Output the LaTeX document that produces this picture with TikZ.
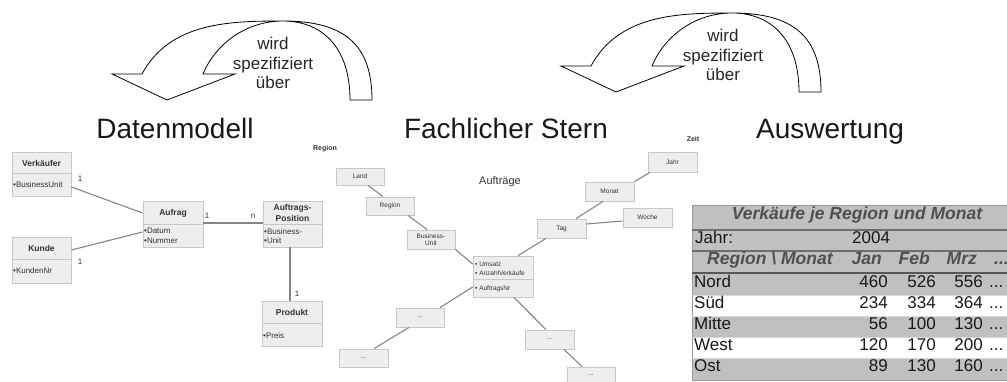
\documentclass[tikz,border=0pt]{standalone}
\usepackage{fontspec}
\setmainfont{Liberation Sans}
\usetikzlibrary{calc}
\definecolor{boxfill}{HTML}{EEEEEE}
\definecolor{boxline}{HTML}{C8C8C8}
\definecolor{connc}{HTML}{858585}
\definecolor{tabgray}{HTML}{C0C0C0}
\definecolor{tabsep}{HTML}{6E6E6E}
\definecolor{tabhead}{HTML}{505050}
\definecolor{txtc}{HTML}{333333}
\begin{document}
\begin{tikzpicture}[x=1pt,y=-1pt,
  box/.style={draw=boxline, fill=boxfill, line width=0.8pt, inner sep=0pt},
  divider/.style={draw=boxline, line width=0.8pt},
  conn/.style={draw=connc, line width=1.1pt},
  arrowshape/.style={draw=black, line width=0.8pt, line join=miter},
  bigtitle/.style={font=\fontsize{28}{32}\selectfont, text=black!90, anchor=base, inner sep=0pt},
  arrowtxt/.style={font=\fontsize{17}{19.5}\selectfont, align=center, text=black!85, inner sep=0pt},
  hdr/.style={font=\fontsize{8.5}{10.5}\selectfont\bfseries, text=txtc, align=center, inner sep=0pt},
  attr/.style={font=\fontsize{8}{9.5}\selectfont, text=txtc, anchor=mid west, inner sep=0pt},
  mult/.style={font=\fontsize{8}{9.5}\selectfont, text=txtc, inner sep=0pt},
  sbox/.style={box, font=\fontsize{6.5}{7.5}\selectfont, text=txtc, align=center},
  sattr/.style={font=\fontsize{6.5}{7.5}\selectfont, text=txtc, anchor=mid west, inner sep=0pt},
  dimlabel/.style={font=\fontsize{7}{8}\selectfont\bfseries, text=txtc, inner sep=0pt},
  tabtxt/.style={font=\fontsize{17}{19}\selectfont, text=black!90, inner sep=0pt},
  tabhdr/.style={font=\fontsize{17.5}{19}\selectfont\bfseries\itshape, text=tabhead, inner sep=0pt}
]
\useasboundingbox (0,0) rectangle (1007,382);

% ---------- curved arrows ----------
\draw[arrowshape] (112,74) -- (142,74) .. controls (170,22) and (230,21) .. (283,21)
  .. controls (345,21) and (372,45) .. (372,100) -- (350,100)
  .. controls (350,45) and (320,21) .. (283,21)
  .. controls (245,21) and (215,45) .. (203,74) -- (235,74) -- (167,100) -- cycle;
\node[arrowtxt] (t1) at (273,63) {wird\\spezifiziert\\über};

\begin{scope}[shift={(449,-8)}]
\draw[arrowshape] (112,74) -- (142,74) .. controls (170,22) and (230,21) .. (283,21)
  .. controls (345,21) and (372,45) .. (372,100) -- (350,100)
  .. controls (350,45) and (320,21) .. (283,21)
  .. controls (245,21) and (215,45) .. (203,74) -- (235,74) -- (167,100) -- cycle;
\node[arrowtxt] (t2) at (274,63) {wird\\spezifiziert\\über};
\end{scope}

% ---------- titles ----------
\node[bigtitle] (dm) at (175,139) {Datenmodell};
\node[bigtitle] (fs) at (506,139) {Fachlicher Stern};
\node[bigtitle] (aw) at (830,139) {Auswertung};

% ---------- Datenmodell ----------
\node[box, minimum width=59pt, minimum height=44pt] (verk) at (41.5,174) {};
\draw[divider] (verk.west |- 0,173) -- (verk.east |- 0,173);
\node[hdr] (verkh) at (41.5,163) {Verkäufer};
\node[attr] (verka) at (13,185) {•BusinessUnit};

\node[box, minimum width=59pt, minimum height=46pt] (kunde) at (41.5,260) {};
\draw[divider] (kunde.west |- 0,259) -- (kunde.east |- 0,259);
\node[hdr] (kundeh) at (41.5,248) {Kunde};
\node[attr] (kundea) at (13,271) {•KundenNr};

\node[box, minimum width=60pt, minimum height=46pt] (aufrag) at (173,224) {};
\draw[divider] (aufrag.west |- 0,224) -- (aufrag.east |- 0,224);
\node[hdr] (aufragh) at (173,213) {Aufrag};
\node[attr] (aufraga) at (144,231) {•Datum};
\node[attr] (aufragb) at (144,241) {•Nummer};

\node[box, minimum width=59pt, minimum height=46pt] (pos) at (292.5,224) {};
\draw[divider] (pos.west |- 0,224) -- (pos.east |- 0,224);
\node[hdr] (posh) at (292.5,213) {Auftrags-\\Position};
\node[attr] (posa) at (264,232) {•Business-};
\node[attr] (posb) at (264,241) {•Unit};

\node[box, minimum width=60pt, minimum height=45pt] (prod) at (292,323.5) {};
\draw[divider] (prod.west |- 0,323) -- (prod.east |- 0,323);
\node[hdr] (prodh) at (292,312) {Produkt};
\node[attr] (proda) at (263,336) {•Preis};

\draw[conn] ([yshift=-13pt]verk.east) -- ([yshift=11pt]aufrag.west);
\draw[conn] ([yshift=10pt]kunde.east) -- ([yshift=-8pt]aufrag.west);
\draw[conn] ([yshift=1pt]aufrag.east) -- ([yshift=1pt]pos.west);
\draw[conn] ([xshift=-2.5pt]pos.south) -- ([xshift=-2pt]prod.north);
\node[mult] (m1) at (80,179) {1};
\node[mult] (m2) at (80,262) {1};
\node[mult] (m3) at (207,216) {1};
\node[mult] (m4) at (253,216) {n};
\node[mult] (m5) at (297,294) {1};

% ---------- Fachlicher Stern ----------
\node[dimlabel] (lregion) at (325,149) {Region};
\node[dimlabel] (lzeit) at (693,139) {Zeit};
\node[font=\fontsize{11}{13}\selectfont, text=txtc, inner sep=0pt] (lauf) at (500,182) {Aufträge};

\node[sbox, minimum width=48pt, minimum height=17pt] (land) at (360,176.5) {Land};
\node[sbox, minimum width=48pt, minimum height=18pt] (region) at (390,206) {Region};
\node[sbox, minimum width=48pt, minimum height=19pt] (bu) at (431,239.5) {Business-\\Unit};

\node[box, minimum width=60pt, minimum height=41pt] (fact) at (503,276.5) {};
\draw[divider] (fact.west |- 0,279) -- (fact.east |- 0,279);
\node[sattr] (fa) at (475,264) {• Umsatz};
\node[sattr] (fb) at (475,273) {• AnzahlVerkäufe};
\node[sattr] (fc) at (475,288) {• AuftragsNr};

\node[sbox, minimum width=49pt, minimum height=20pt] (jahr) at (672.5,162) {Jahr};
\node[sbox, minimum width=49pt, minimum height=19pt] (monat) at (609.5,191.5) {Monat};
\node[sbox, minimum width=49pt, minimum height=19pt] (woche) at (647.5,217.5) {Woche};
\node[sbox, minimum width=49pt, minimum height=19pt] (tag) at (561.5,228.5) {Tag};

\node[sbox, minimum width=48pt, minimum height=19pt] (da) at (420,317.5) {...};
\node[sbox, minimum width=49pt, minimum height=18pt] (db) at (363.5,358) {...};
\node[sbox, minimum width=49pt, minimum height=19pt] (dc) at (549.5,339.5) {...};
\node[sbox, minimum width=48pt, minimum height=17pt] (dd) at (591,375.5) {...};

\draw[conn] ([xshift=8pt]land.south) -- ([xshift=-7pt]region.north);
\draw[conn] ([xshift=18pt]region.south) -- ([xshift=-4pt]bu.north);
\draw[conn] (bu.south east) -- ([yshift=12.5pt]fact.west);
\draw[conn] ([xshift=15pt]fact.north) -- ([xshift=-15.5pt]tag.south);
\draw[conn] ([xshift=14.5pt]tag.north) -- ([xshift=-6.5pt]monat.south);
\draw[conn] (monat.north east) -- ([xshift=-22.5pt]jahr.south);
\draw[conn] ([yshift=4.5pt]tag.east) -- ([yshift=-3.5pt]woche.west);
\draw[conn] ([yshift=-10.5pt]fact.west) -- ([xshift=20pt]da.north);
\draw[conn] ([xshift=-11pt]da.south) -- ([xshift=10.5pt]db.north);
\draw[conn] ([xshift=11pt]fact.south) -- ([xshift=-3.5pt]dc.north);
\draw[conn] ([xshift=14.5pt]dc.south) -- ([xshift=-9pt]dd.north);

% ---------- Auswertung table ----------
\fill[tabgray] (692,205) rectangle (1007,295);
\fill[white] (692,295) rectangle (1007,316);
\fill[tabgray] (692,316) rectangle (1007,337);
\fill[white] (692,337) rectangle (1007,358);
\fill[tabgray] (692,358) rectangle (1007,380);
\draw[draw=tabsep!70, line width=0.8pt] (1007,205) -- (692,205) -- (692,380) -- (1007,380);
\draw[draw=tabsep, line width=2pt] (692,230) -- (1007,230);
\draw[draw=tabsep, line width=2pt] (692,251) -- (1007,251);
\draw[draw=tabsep!80!black, line width=2pt] (692,273) -- (1007,273);
\draw[draw=white!85!black, line width=0.5pt] (692,295) -- (1007,295);
\draw[draw=white!85!black, line width=0.5pt] (692,316) -- (1007,316);
\draw[draw=white!85!black, line width=0.5pt] (692,337) -- (1007,337);
\draw[draw=white!85!black, line width=0.5pt] (692,358) -- (1007,358);

\node[tabhdr, anchor=mid] (ttitle) at (857,217) {Verkäufe je Region und Monat};
\node[tabtxt, anchor=mid west] (tjahr) at (695,240.5) {Jahr:};
\node[tabtxt, anchor=mid west] (tjahrv) at (852,240.5) {2004};
\node[tabhdr, anchor=mid west] (hreg) at (707,262) {Region \textbackslash\ Monat};
\node[tabhdr, anchor=mid east] (hjan) at (882,262) {Jan};
\node[tabhdr, anchor=mid east] (hfeb) at (930,262) {Feb};
\node[tabhdr, anchor=mid east] (hmrz) at (977,262) {Mrz};
\node[tabhdr, anchor=mid west] (hdots) at (994,262) {...};

\foreach \name/\y/\a/\b/\c in {Nord/284.5/460/526/556, Süd/305.5/234/334/364, Mitte/326.5/56/100/130, West/347.5/120/170/200, Ost/368.5/89/130/160}{
  \node[tabtxt, anchor=mid west] (r\name) at (694,\y) {\name};
  \node[tabtxt, anchor=mid east] (a\name) at (888,\y) {\a};
  \node[tabtxt, anchor=mid east] (b\name) at (936,\y) {\b};
  \node[tabtxt, anchor=mid east] (c\name) at (983,\y) {\c};
  \node[tabtxt, anchor=mid west] (d\name) at (989,\y) {...};
}
\end{tikzpicture}
\end{document}
